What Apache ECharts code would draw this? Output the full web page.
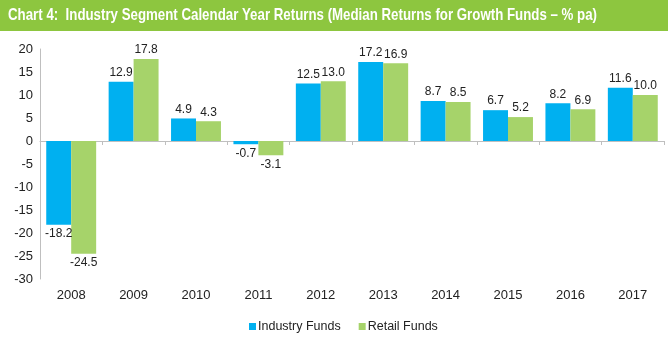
<!DOCTYPE html>
<html><head><meta charset="utf-8">
<script src="https://cdn.jsdelivr.net/npm/echarts@6/dist/echarts.min.js"></script>
<style>html,body{margin:0;padding:0;background:#fff}#c{width:668px;height:345px}</style>
</head><body><div id="c"></div>
<script>
const categories = ['2008','2009','2010','2011','2012','2013','2014','2015','2016','2017'];
const industryFunds = [-18.2, 12.9, 4.9, -0.7, 12.5, 17.2, 8.7, 6.7, 8.2, 11.6];
const retailFunds = [-24.5, 17.8, 4.3, -3.1, 13.0, 16.9, 8.5, 5.2, 6.9, 10.0];
const seriesNames = ['Industry Funds', 'Retail Funds'];
const titleText = 'Chart 4:  Industry Segment Calendar Year Returns (Median Returns for Growth Funds \u2013 % pa)';

function toData(arr){
  return arr.map(v => ({value: v, label: {position: v < 0 ? 'bottom' : 'top'}}));
}
const titleFont = 'bold 17px "Liberation Sans", Arial, sans-serif';
const ctx = document.createElement('canvas').getContext('2d');
ctx.font = titleFont;
const titleScale = 589 / ctx.measureText(titleText).width;

const chart = echarts.init(document.getElementById('c'));
const lbl = {show: true, color: '#222', fontSize: 12, fontFamily: 'Liberation Sans, Arial', formatter: p => p.value.toFixed(1), distance: 3};
chart.setOption({
  animation: false,
  graphic: [
    {type: 'rect', left: 0, top: 0, shape: {width: 668, height: 31}, style: {fill: '#8dc63f'}, z: 0},
    {type: 'text', x: 8, y: 7, scaleX: titleScale, style: {text: titleText, fill: '#fff', font: titleFont}, z: 1}
  ],
  grid: {left: 40, right: 4, top: 49, bottom: 66},
  legend: {
    bottom: 7, left: 244, itemWidth: 7, itemHeight: 7, itemGap: 18, icon: 'rect',
    textStyle: {fontSize: 12.5, color: '#222', fontFamily: 'Liberation Sans, Arial', padding: [0,0,0,-3]},
    data: seriesNames
  },
  xAxis: [
    {type: 'category', data: categories, position: 'bottom', axisLine: {show: false, onZero: false}, axisTick: {show: false},
     axisLabel: {fontSize: 13, color: '#222', fontFamily: 'Liberation Sans, Arial', margin: 10}},
    {type: 'category', data: categories, position: 'bottom', axisLine: {show: true, onZero: true, lineStyle: {color: '#bfbfbf'}},
     axisTick: {show: true, length: 4, inside: false, lineStyle: {color: '#bfbfbf'}}, axisLabel: {show: false}}
  ],
  yAxis: {
    type: 'value', min: -30, max: 20, interval: 5,
    axisLine: {show: true, lineStyle: {color: '#bfbfbf'}}, axisTick: {show: false}, splitLine: {show: false},
    axisLabel: {fontSize: 13, color: '#222', fontFamily: 'Liberation Sans, Arial', margin: 7}
  },
  series: [
    {name: seriesNames[0], type: 'bar', data: toData(industryFunds), itemStyle: {color: '#00b0f0'}, barGap: '0%', barCategoryGap: '20%', label: lbl},
    {name: seriesNames[1], type: 'bar', data: toData(retailFunds), itemStyle: {color: '#a6d36a'}, barGap: '0%', barCategoryGap: '20%', label: lbl}
  ]
});
</script></body></html>
